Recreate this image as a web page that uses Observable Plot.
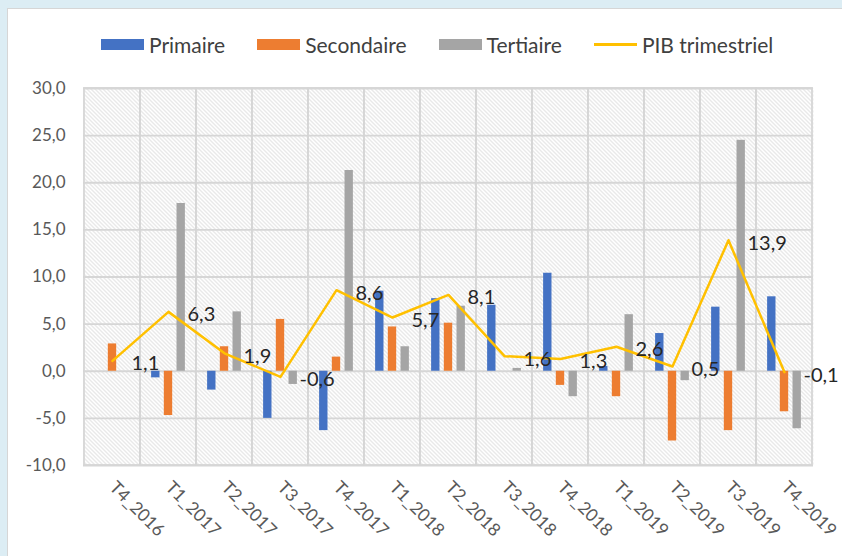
<!DOCTYPE html>
<html>
<head>
<meta charset="utf-8">
<script src="https://cdn.jsdelivr.net/npm/d3@7"></script>
<script src="https://cdn.jsdelivr.net/npm/@observablehq/plot@0.6"></script>
<style>
  html, body { margin: 0; padding: 0; }
  body { width: 842px; height: 556px; background: #dcedf4; position: relative; overflow: hidden; font-family: Lato, "Open Sans", sans-serif; }
  #panel { position: absolute; left: 7px; top: 8px; width: 840px; height: 552px; background: #fff; border: 1px solid #d6d6d6; box-sizing: border-box; }
  #legend { position: absolute; left: 0; top: 0; width: 842px; height: 62px; }
  #legend .row { position: absolute; top: 33px; left: 101px; height: 22px; display: flex; align-items: center; gap: 32px; font-size: 21px; color: #404040; }
  #legend .item { display: flex; align-items: center; gap: 5px; }
  #legend .sw { width: 43px; height: 11px; }
  #legend .ln { width: 43px; height: 3px; }
  #chart { position: absolute; left: 0; top: 62px; }
</style>
</head>
<body>
<div id="panel"></div>
<div id="legend"><div class="row" id="legendRow"></div></div>
<div id="chart"></div>
<script>
const categories = ["T4_2016","T1_2017","T2_2017","T3_2017","T4_2017","T1_2018","T2_2018","T3_2018","T4_2018","T1_2019","T2_2019","T3_2019","T4_2019"];
const primaire   = [0, -0.7, -2.0, -5.0, -6.3, 8.5, 7.7, 7.0, 10.4, 0.5, 4.0, 6.8, 7.9];
const secondaire = [2.9, -4.7, 2.6, 5.5, 1.5, 4.7, 5.1, 0, -1.5, -2.7, -7.4, -6.3, -4.3];
const tertiaire  = [0, 17.8, 6.3, -1.4, 21.3, 2.6, 6.9, 0.3, -2.7, 6.0, -1.0, 24.5, -6.1];
const pib        = [1.1, 6.3, 1.9, -0.6, 8.6, 5.7, 8.1, 1.6, 1.3, 2.6, 0.5, 13.9, -0.1];
const yTicks     = [-10, -5, 0, 5, 10, 15, 20, 25, 30];
const seriesNames = ["Primaire", "Secondaire", "Tertiaire", "PIB trimestriel"];
const colors = ["#4472c4", "#ed7d31", "#a5a5a5", "#ffc000"];

const fmt = v => v.toFixed(1).replace(".", ",");

// legend
const row = document.getElementById("legendRow");
seriesNames.forEach((name, i) => {
  const it = document.createElement("div");
  it.className = "item";
  const sw = document.createElement("div");
  sw.className = i === 3 ? "ln" : "sw";
  sw.style.background = colors[i];
  const t = document.createElement("span");
  t.textContent = name;
  it.appendChild(sw); it.appendChild(t);
  row.appendChild(it);
});

const barW = 8.5;
const bandW = (812.7 - 83) / categories.length;
const inset = (bandW - barW) / 2;
const step = 12.7;

const series = [primaire, secondaire, tertiaire];
const barMarks = series.map((vals, s) =>
  Plot.barY(categories, {
    x: d => d,
    y1: 0,
    y2: (d, i) => vals[i],
    fill: colors[s],
    insetLeft: inset,
    insetRight: inset,
    dx: (s - 1) * step
  })
);

const svg = Plot.plot({
  width: 842,
  height: 494,
  marginLeft: 83,
  marginRight: 29,
  marginTop: 26,
  marginBottom: 91,
  style: { fontFamily: "Lato, 'Open Sans', sans-serif", background: "transparent", overflow: "visible" },
  x: { type: "band", domain: categories, padding: 0 },
  y: { domain: [-10, 30] },
  marks: [
    Plot.frame({ fill: "url(#hatch)" }),
    Plot.ruleY(yTicks, { stroke: "#d6d6d6", strokeWidth: 1.8 }),
    Plot.barY(categories, { x: d => d, y1: -10, y2: 30, fill: "none", stroke: "#d6d6d6", strokeWidth: 1.8 }),
    ...barMarks,
    Plot.line(categories, { x: d => d, y: (d, i) => pib[i], stroke: colors[3], strokeWidth: 2.5 }),
    Plot.text(categories, { x: d => d, y: (d, i) => pib[i], text: (d, i) => fmt(pib[i]), textAnchor: "start", dx: 19, dy: 3, fontSize: 20, fill: "#262626" }),
    Plot.axisY(yTicks, { tickFormat: fmt, tickSize: 0, tickPadding: 18, fontSize: 17, fill: "#595959" }),
    Plot.axisX({ tickSize: 0, tickRotate: 45, tickPadding: 19, fontSize: 17.5, fill: "#595959" })
  ]
});

const defs = d3.select(svg).insert("defs", ":first-child");
const pat = defs.append("pattern").attr("id", "hatch").attr("patternUnits", "userSpaceOnUse").attr("width", 4).attr("height", 4);
pat.append("rect").attr("width", 4).attr("height", 4).attr("fill", "#ffffff");
pat.append("path").attr("d", "M-1,-1L5,5M3,-1L5,1M-1,3L1,5").attr("stroke", "#d2d2d2").attr("stroke-width", 1);

document.getElementById("chart").appendChild(svg);
</script>
</body>
</html>
